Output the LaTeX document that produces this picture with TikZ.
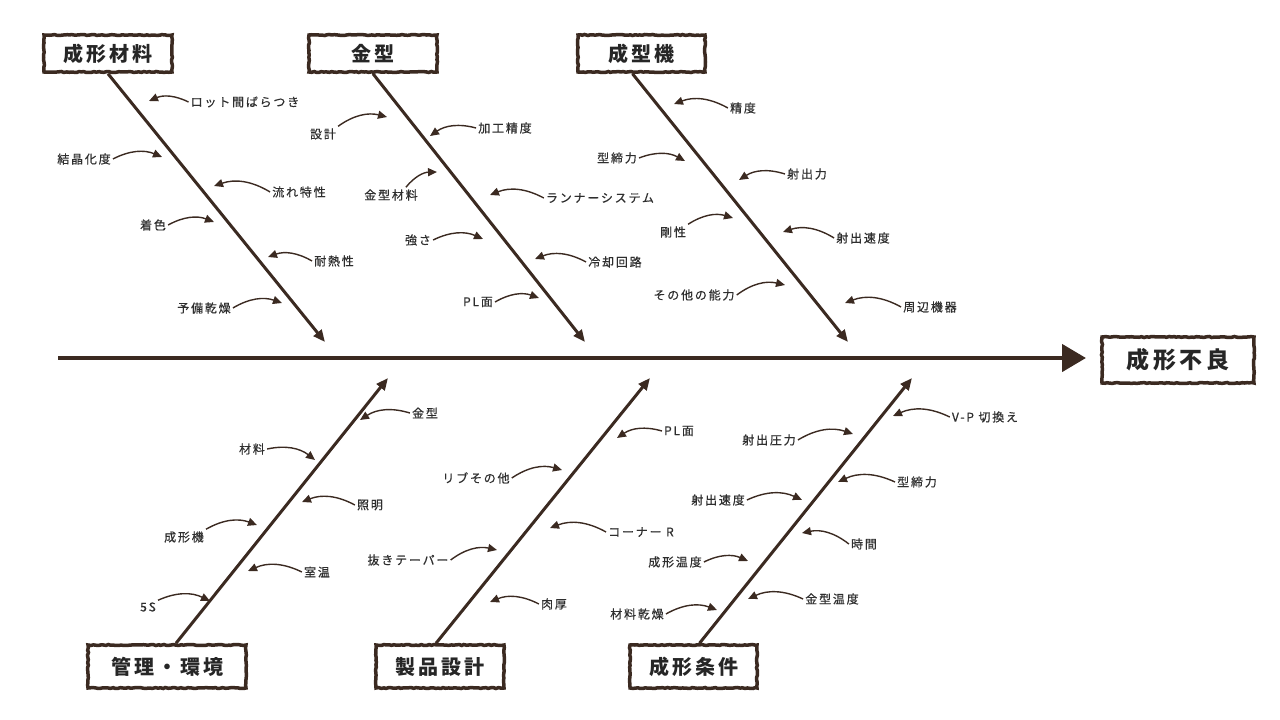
\documentclass[tikz,border=0pt]{standalone}
\usepackage{fontspec}
\usepackage{xcolor}
\usepackage{tikz}
\usetikzlibrary{arrows.meta,positioning,decorations.pathmorphing}
\newfontfamily\jpfont[LetterSpace=15]{Noto Sans CJK JP}
\newfontfamily\jplabel[LetterSpace=15,FakeBold=0.6]{Noto Sans CJK JP}
\definecolor{fishbrown}{HTML}{3B2A21}
\definecolor{labelgray}{HTML}{2E2E2E}
\tikzset{
  catbox/.style={draw=fishbrown, line width=3.5pt, fill=white, inner sep=0pt,
    minimum height=37pt, minimum width=128pt, text=black!85,
    font=\jpfont\bfseries\fontsize{20}{24}\selectfont,
    decorate, decoration={random steps, segment length=2.5pt, amplitude=0.5pt}},
  bone/.style={fishbrown, line width=3pt, -{Triangle[length=12pt,width=10pt]}},
  cause/.style={fishbrown, line width=1.4pt, -{Triangle[length=9pt,width=8pt]}},
  lbl/.style={text=labelgray, font=\jplabel\fontsize{12}{14}\selectfont, inner sep=2pt},
  tol/.style={bend right=25},
  tor/.style={bend left=25},
}
\begin{document}
\begin{tikzpicture}[x=1pt,y=-1pt]
    \useasboundingbox (0,0) rectangle (1280,720);

    % Spine and effect
    \coordinate (sp) at (58,358);
    \coordinate (ep) at (1086,358);
    \draw[fishbrown, line width=4.5pt, -{Triangle[length=24pt,width=27pt]}] (sp) -- (ep);
    \node[catbox, minimum width=152pt, minimum height=46pt, font=\jpfont\bfseries\fontsize{23}{26}\selectfont] (eff) at (1178,360) {成形不良};

    % Categories
    \node[catbox] (mat) at (108,53.5) {成形材料};
    \node[catbox] (mold) at (373,53.5) {金型};
    \node[catbox, minimum width=127pt] (mach) at (641.5,53.5) {成型機};
    \node[catbox, minimum width=158pt, minimum height=43pt] (env) at (167,666.5) {管理・環境};
    \node[catbox, minimum height=43pt] (prod) at (440,666.5) {製品設計};
    \node[catbox, minimum width=127pt, minimum height=43pt] (cond) at (693.5,666.5) {成形条件};

    % Bones
    \coordinate (e1) at (325,342);
    \coordinate (e2) at (585,342);
    \coordinate (e3) at (848,342);
    \coordinate (e4) at (388,378);
    \coordinate (e5) at (650,378);
    \coordinate (e6) at (912,378);
    \draw[bone] (mat.south) -- (e1);
    \draw[bone] (mold.south) -- (e2);
    \draw[bone] ([xshift=-9pt]mach.south) -- (e3);
    \draw[bone] ([xshift=9pt]env.north) -- (e4);
    \draw[bone] ([xshift=-4pt]prod.north) -- (e5);
    \draw[bone] ([xshift=6pt]cond.north) -- (e6);

    % Causes: 成形材料
    \node[lbl] (a1) at (245,102) {ロット間ばらつき}; \coordinate (ta1) at (149,101);
    \draw[cause] (a1.west) to[tol] (ta1);
    \node[lbl] (a2) at (84,159) {結晶化度}; \coordinate (ta2) at (162,157);
    \draw[cause] (a2.east) to[tor] (ta2);
    \node[lbl] (a3) at (299,192) {流れ特性}; \coordinate (ta3) at (214,186);
    \draw[cause] (a3.west) to[tol] (ta3);
    \node[lbl] (a4) at (153,225) {着色}; \coordinate (ta4) at (214,222);
    \draw[cause] (a4.east) to[tor] (ta4);
    \node[lbl] (a5) at (334,261) {耐熱性}; \coordinate (ta5) at (268,257);
    \draw[cause] (a5.west) to[tol] (ta5);
    \node[lbl] (a6) at (204,308) {予備乾燥}; \coordinate (ta6) at (282,303);
    \draw[cause] (a6.east) to[tor] (ta6);

    % Causes: 金型
    \node[lbl] (b1) at (323,134) {設計}; \coordinate (tb1) at (387,117);
    \draw[cause] (b1.north east) to[tor] (tb1);
    \node[lbl] (b2) at (505,128) {加工精度}; \coordinate (tb2) at (430,136);
    \draw[cause] (b2.west) to[tol] (tb2);
    \node[lbl] (b3) at (391,195) {金型材料}; \coordinate (tb3) at (437,172);
    \draw[cause] ([xshift=-14pt]b3.north east) to[tor] (tb3);
    \node[lbl] (b4) at (600,198) {ランナーシステム}; \coordinate (tb4) at (490,195);
    \draw[cause] (b4.west) to[tol] (tb4);
    \node[lbl] (b5) at (418,240) {強さ}; \coordinate (tb5) at (483,239);
    \draw[cause] (b5.east) to[tor] (tb5);
    \node[lbl] (b6) at (615,262) {冷却回路}; \coordinate (tb6) at (535,259);
    \draw[cause] (b6.west) to[tol] (tb6);
    \node[lbl] (b7) at (478,302) {PL面}; \coordinate (tb7) at (539,298);
    \draw[cause] (b7.east) to[tor] (tb7);

    % Causes: 成型機
    \node[lbl] (c1) at (743,108) {精度}; \coordinate (tc1) at (674,104);
    \draw[cause] (c1.west) to[tol] (tc1);
    \node[lbl] (c2) at (617,158) {型締力}; \coordinate (tc2) at (685,161);
    \draw[cause] (c2.east) to[tor] (tc2);
    \node[lbl] (c3) at (807,174) {射出力}; \coordinate (tc3) at (739,180);
    \draw[cause] (c3.west) to[tol] (tc3);
    \node[lbl] (c4) at (673,232) {剛性}; \coordinate (tc4) at (733,218);
    \draw[cause] (c4.north east) to[tor] (tc4);
    \node[lbl] (c5) at (863,238) {射出速度}; \coordinate (tc5) at (783,232);
    \draw[cause] (c5.west) to[tol] (tc5);
    \node[lbl] (c6) at (694,295) {その他の能力}; \coordinate (tc6) at (785,285);
    \draw[cause] (c6.east) to[tor] (tc6);
    \node[lbl] (c7) at (930,307) {周辺機器}; \coordinate (tc7) at (845,303);
    \draw[cause] (c7.west) to[tol] (tc7);

    % Causes: 管理・環境
    \node[lbl] (d1) at (425,413) {金型}; \coordinate (td1) at (360,420);
    \draw[cause] (d1.west) to[tol] (td1);
    \node[lbl] (d2) at (252,449) {材料}; \coordinate (td2) at (315,460);
    \draw[cause] (d2.east) to[tor] (td2);
    \node[lbl] (d3) at (370,505) {照明}; \coordinate (td3) at (302,502);
    \draw[cause] (d3.west) to[tol] (td3);
    \node[lbl] (d4) at (184,537) {成形機}; \coordinate (td4) at (257,525);
    \draw[cause] (d4.north east) to[tor] (td4);
    \node[lbl] (d5) at (317,572) {室温}; \coordinate (td5) at (248,571);
    \draw[cause] (d5.west) to[tol] (td5);
    \node[lbl] (d6) at (148,607) {5S}; \coordinate (td6) at (210,601);
    \draw[cause] (d6.north east) to[tor] (td6);

    % Causes: 製品設計
    \node[lbl] (f1) at (679,431) {PL面}; \coordinate (tf1) at (617,438);
    \draw[cause] (f1.west) to[tol] (tf1);
    \node[lbl] (f2) at (476,478) {リブその他}; \coordinate (tf2) at (562,470);
    \draw[cause] (f2.east) to[tor] (tf2);
    \node[lbl] (f3) at (641,532) {コーナー R}; \coordinate (tf3) at (550,528);
    \draw[cause] (f3.west) to[tol] (tf3);
    \node[lbl] (f4) at (408,560) {抜きテーパー}; \coordinate (tf4) at (497,550);
    \draw[cause] (f4.east) to[tor] (tf4);
    \node[lbl] (f5) at (554,604) {肉厚}; \coordinate (tf5) at (490,602);
    \draw[cause] (f5.west) to[tol] (tf5);

    % Causes: 成形条件
    \node[lbl] (g1) at (985,417) {V-P 切換え}; \coordinate (tg1) at (893,416);
    \draw[cause] (g1.west) to[tol] (tg1);
    \node[lbl] (g2) at (769,440) {射出圧力}; \coordinate (tg2) at (853,434);
    \draw[cause] (g2.east) to[tor] (tg2);
    \node[lbl] (g3) at (917,482) {型締力}; \coordinate (tg3) at (838,482);
    \draw[cause] (g3.west) to[tol] (tg3);
    \node[lbl] (g4) at (718,500) {射出速度}; \coordinate (tg4) at (802,500);
    \draw[cause] (g4.east) to[tor] (tg4);
    \node[lbl] (g5) at (864,544) {時間}; \coordinate (tg5) at (802,533);
    \draw[cause] (g5.west) to[tol] (tg5);
    \node[lbl] (g6) at (675,562) {成形温度}; \coordinate (tg6) at (748,561);
    \draw[cause] (g6.east) to[tor] (tg6);
    \node[lbl] (g7) at (832,599) {金型温度}; \coordinate (tg7) at (748,599);
    \draw[cause] (g7.west) to[tol] (tg7);
    \node[lbl] (g8) at (637,614) {材料乾燥}; \coordinate (tg8) at (717,610);
    \draw[cause] (g8.east) to[tor] (tg8);
\end{tikzpicture}
\end{document}
